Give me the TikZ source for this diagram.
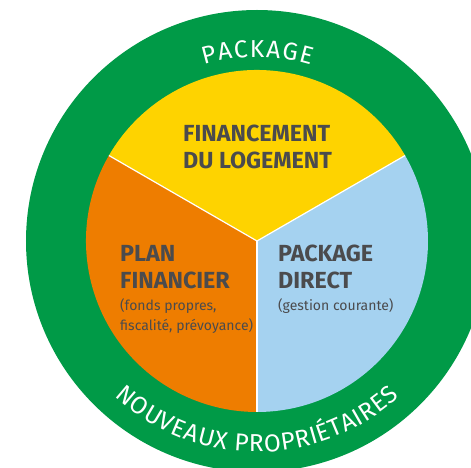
\documentclass[tikz,border=0pt]{standalone}
\usepackage{fontspec}
\setmainfont{Fira Sans}
\usetikzlibrary{decorations.text}

\definecolor{ringgreen}{HTML}{009A47}
\definecolor{logyellow}{HTML}{FED300}
\definecolor{planorange}{HTML}{EE7D00}
\definecolor{directblue}{HTML}{A5D2F0}
\definecolor{textgray}{HTML}{4B4B4D}

\tikzset{
	segtitle/.style={font=\bfseries\fontsize{23.3}{27}\selectfont, text=textgray, align=left, inner sep=0pt, anchor=base west},
	segnote/.style={font=\fontsize{14}{20}\selectfont, text=textgray, align=left, inner sep=0pt, anchor=base west},
	ringtext/.style={decorate, decoration={text along path, text align=fit to path, text color=white, text={#1}}}
}

\begin{document}
\begin{tikzpicture}[x=1pt, y=1pt]
	\useasboundingbox (-257,-227) rectangle (214,241);
	\coordinate (centre) at (0,0);
	
	% outer ring
	\fill[ringgreen] (centre) circle (231);
	
	% three segments
	\fill[logyellow] (centre) -- (30:171) arc (30:150:171) -- cycle;
	\fill[planorange] (centre) -- (150:171) arc (150:270:171) -- cycle;
	\fill[directblue] (centre) -- (270:171) arc (270:390:171) -- cycle;
	\draw[white, line width=1.2pt] (centre) -- (30:171);
	\draw[white, line width=1.2pt] (centre) -- (150:171);
	\draw[white, line width=1.2pt] (centre) -- (270:171);
	
	% texts on the ring
	\path[ringtext={|\fontsize{24.5}{24.5}\selectfont|PACKAGE}] (106.8:184) arc (106.8:73:184);
	\path[ringtext={|\fontsize{24.5}{24.5}\selectfont|NOUVEAUX PROPRIÉTAIRES}] (227.5:211) arc (227.5:312.5:211);
	
	% segment labels (base = last line)
	\node[segtitle] (logement) at (-74,72) {FINANCEMENT\\DU LOGEMENT};
	\node[segtitle] (plan) at (-137,-48) {PLAN\\FINANCIER};
	\node[segnote] (plannote) at (-137,-90) {(fonds propres,\\fiscalité, prévoyance)};
	\node[segtitle] (direct) at (21,-48) {PACKAGE\\DIRECT};
	\node[segnote] (directnote) at (21,-70) {(gestion courante)};
\end{tikzpicture}
\end{document}
